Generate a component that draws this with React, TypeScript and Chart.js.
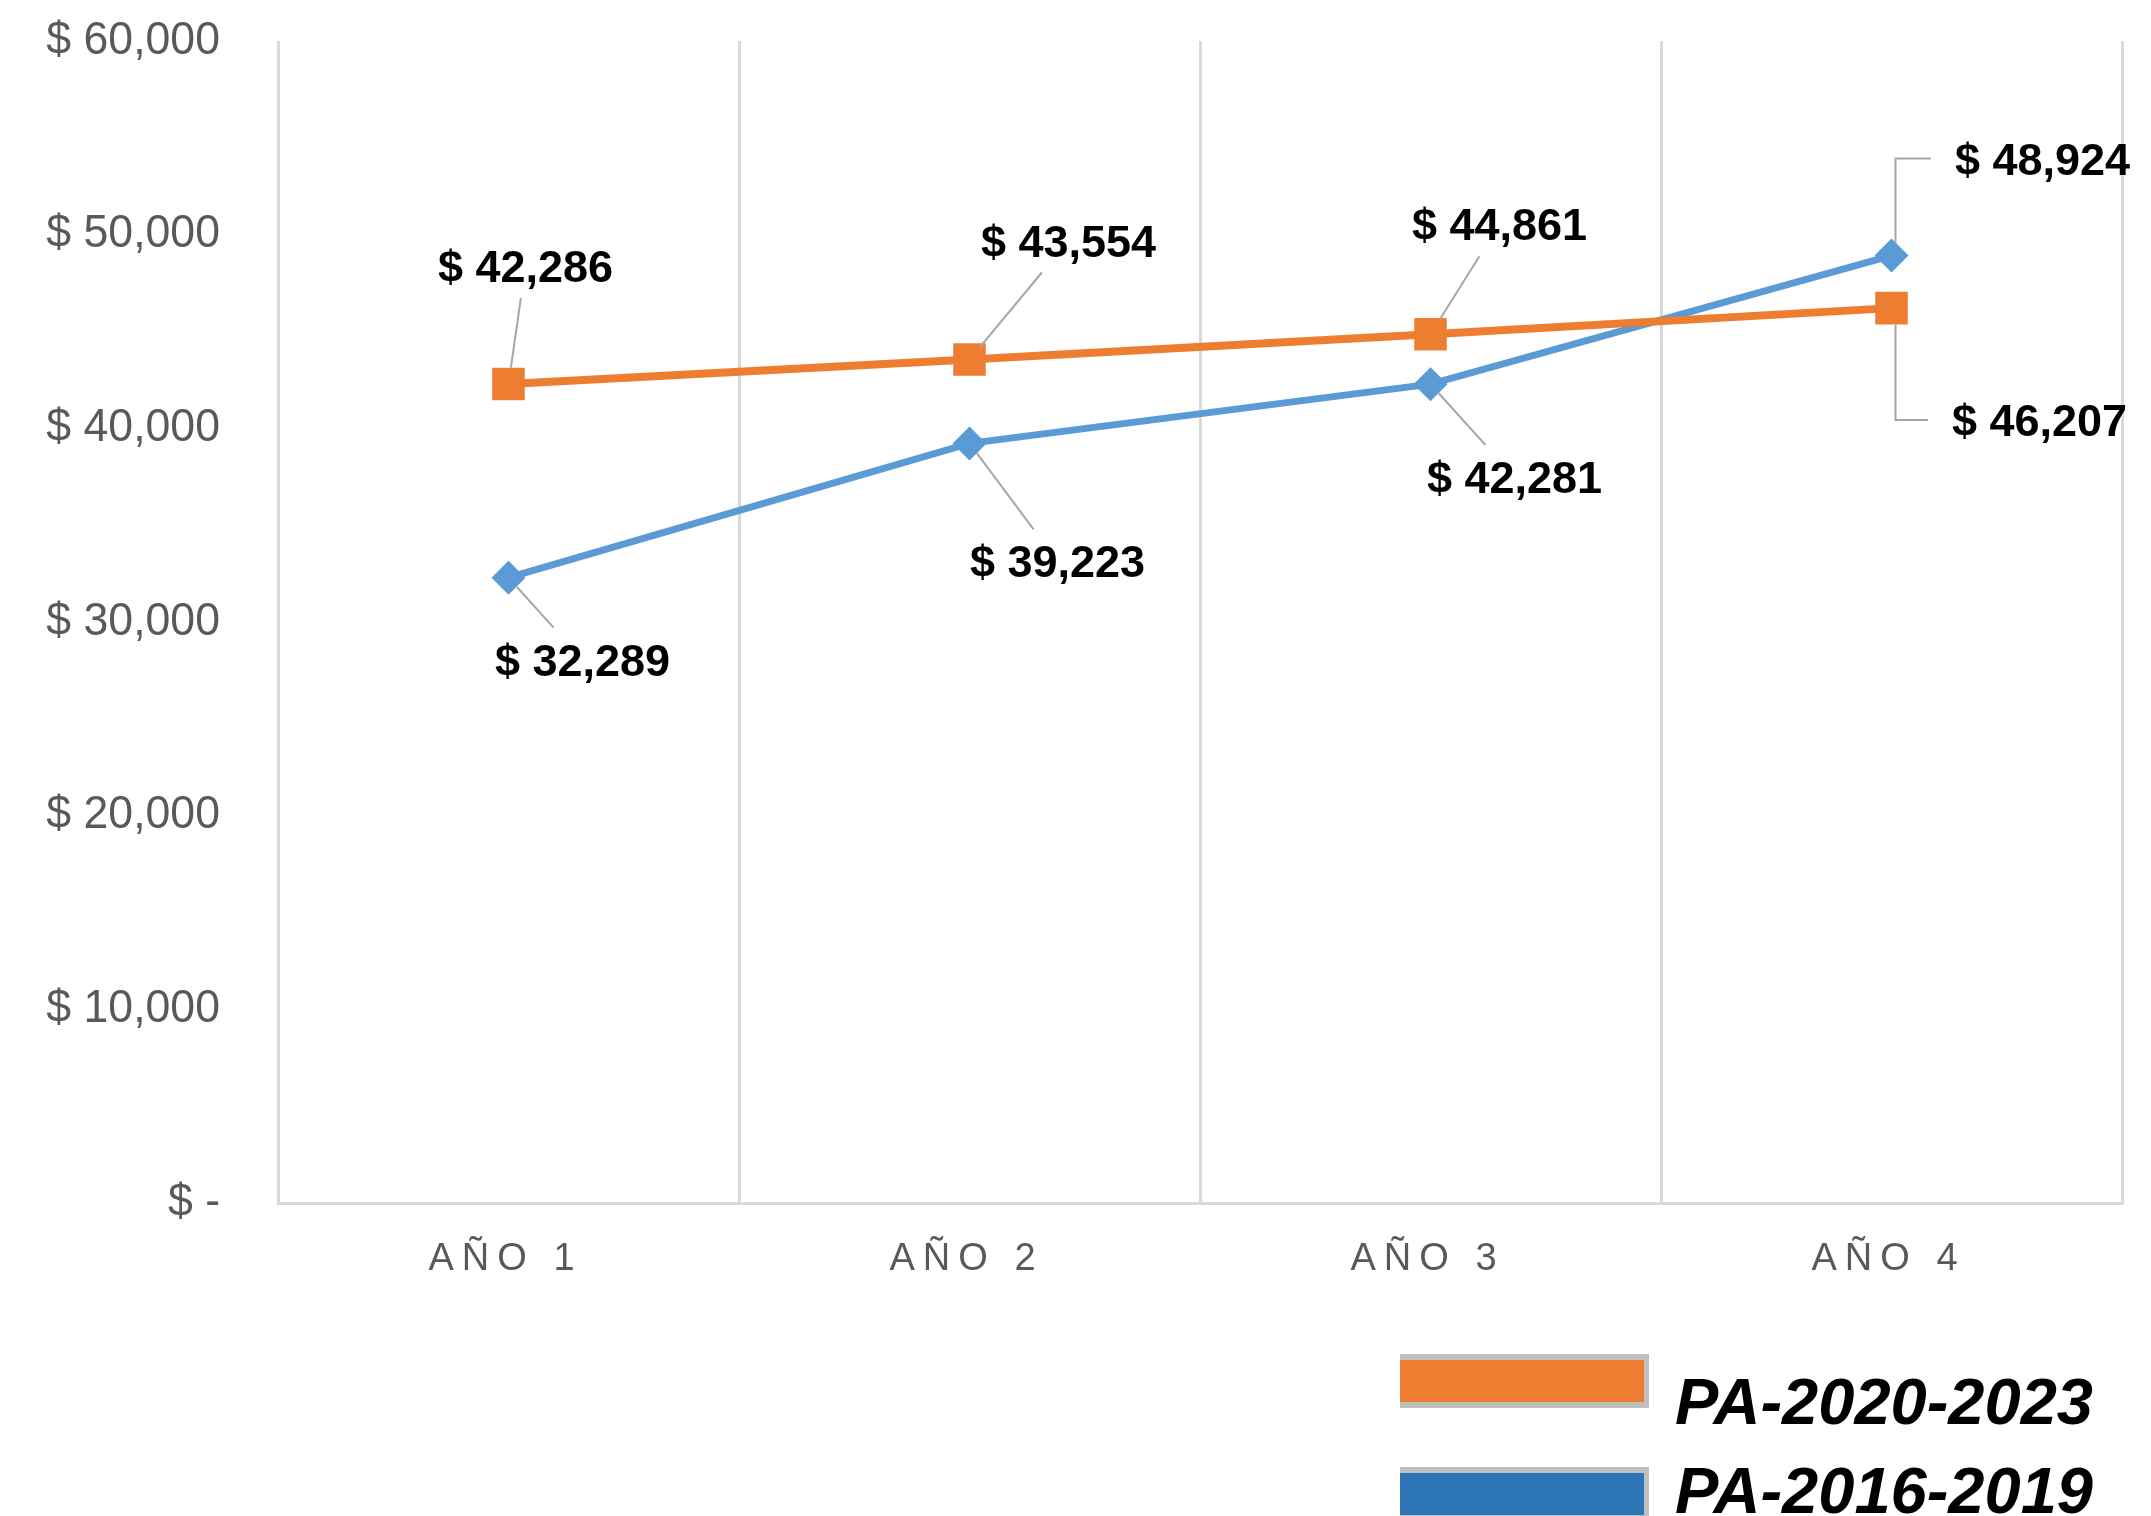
import React, { useEffect, useRef } from "react";
import { Chart, registerables } from "chart.js";

Chart.register(...registerables);

// ---- data ----
const categories = ["AÑO 1", "AÑO 2", "AÑO 3", "AÑO 4"];
const seriesNames = ["PA-2020-2023", "PA-2016-2019"];
const pa2020 = [42286, 43554, 44861, 46207];
const pa2016 = [32289, 39223, 42281, 48924];
const yMin = 0;
const yMax = 60000;
const yStep = 10000;

// ---- styling / placement (not data) ----
const lineColors = ["#ED7D31", "#5B9BD5"];
const legendColors = ["#ED7D31", "#2E75B6"];
const pointStyles = ["rect", "rectRot"];
const pointRadii = [23, 17];
const lineWidths = [8, 7];
// offset of each value label centre from its point, and connector kind
const labelPlacement: [number, number, string][][] = [
  [[17, -118, "line"], [99, -119, "line"], [69, -110, "line"], [148, 112, "elbow"]],
  [[74, 82, "line"], [88, 118, "line"], [84, 93, "line"], [151, -97, "elbow"]],
];

const SANS = "'Liberation Sans', Arial, sans-serif";
const Y_LABEL_RIGHT = 220;
const Y_LABEL_SX = 0.97;

const fmtMoney = (v: number) => (v === 0 ? "$ -" : "$ " + v.toLocaleString("en-US"));

const labelTweaks = {
  id: "labelTweaks",
  beforeDraw(chart: any) {
    const sx: any = chart.scales.x;
    if (sx && !sx.__wrapped) {
      const orig = sx.drawLabels.bind(sx);
      sx.drawLabels = (area: any) => {
        const ctx = chart.ctx;
        ctx.save();
        (ctx as any).letterSpacing = "8px";
        ctx.translate(-3, 0);
        orig(area);
        ctx.restore();
      };
      sx.__wrapped = true;
    }
    const sy: any = chart.scales.y;
    if (sy && !sy.__wrapped) {
      const origY = sy.drawLabels.bind(sy);
      sy.drawLabels = (area: any) => {
        const ctx = chart.ctx;
        ctx.save();
        ctx.translate(Y_LABEL_RIGHT, 0);
        ctx.scale(Y_LABEL_SX, 1);
        ctx.translate(-Y_LABEL_RIGHT, 0);
        origY(area);
        ctx.restore();
      };
      sy.__wrapped = true;
    }
  },
};

const valueLabels = {
  id: "valueLabels",
  afterDatasetsDraw(chart: any) {
    const ctx: CanvasRenderingContext2D = chart.ctx;
    ctx.save();
    ctx.font = `bold 45px ${SANS}`;
    chart.data.datasets.forEach((ds: any, di: number) => {
      const meta = chart.getDatasetMeta(di);
      const r = pointRadii[di] * 0.72;
      meta.data.forEach((pt: any, i: number) => {
        const x = pt.x;
        const y = pt.y;
        const [dx, dy, kind] = labelPlacement[di][i];
        const text = fmtMoney(ds.data[i]);
        const w = ctx.measureText(text).width;
        const cx = x + dx;
        const cy = y + dy;
        ctx.strokeStyle = "#A6A6A6";
        ctx.lineWidth = 2;
        ctx.beginPath();
        if (kind === "elbow") {
          ctx.moveTo(x + 4, y + Math.sign(dy) * r);
          ctx.lineTo(x + 4, cy);
          ctx.lineTo(cx - w / 2 - 24, cy);
        } else {
          const len = Math.hypot(dx, dy);
          const ux = dx / len;
          const uy = dy / len;
          const s = Math.min((w / 2 + 8) / Math.abs(dx), 32 / Math.abs(dy));
          ctx.moveTo(x + ux * r, y + uy * r);
          ctx.lineTo(cx - dx * s, cy - dy * s);
        }
        ctx.stroke();
        ctx.fillStyle = "#000000";
        ctx.textAlign = "center";
        ctx.textBaseline = "alphabetic";
        ctx.fillText(text, cx, cy + 16);
      });
    });
    ctx.restore();
  },
};

const boxLegend = {
  id: "boxLegend",
  afterDraw(chart: any) {
    const ctx: CanvasRenderingContext2D = chart.ctx;
    ctx.save();
    const rectTops = [1354, 1467];
    const textBaselines = [1424, 1513];
    chart.data.datasets.forEach((ds: any, di: number) => {
      const top = rectTops[di];
      ctx.fillStyle = "#BFBFBF";
      ctx.fillRect(1400, top, 249, 54);
      ctx.fillStyle = legendColors[di];
      ctx.fillRect(1400, top + 6, 244, 42);
      ctx.fillStyle = "#000000";
      ctx.font = `italic bold 65px ${SANS}`;
      ctx.textAlign = "left";
      ctx.textBaseline = "alphabetic";
      ctx.fillText(ds.label, 1675, textBaselines[di]);
    });
    ctx.restore();
  },
};

export default function App() {
  const ref = useRef<HTMLCanvasElement | null>(null);
  useEffect(() => {
    if (!ref.current) return;
    const chart = new Chart(ref.current, {
      type: "line",
      data: {
        labels: categories,
        datasets: [
          {
            label: seriesNames[0],
            data: pa2020,
            borderColor: lineColors[0],
            backgroundColor: lineColors[0],
            borderWidth: lineWidths[0],
            pointStyle: pointStyles[0] as any,
            pointRadius: pointRadii[0],
            pointBorderWidth: 0,
            tension: 0,
          },
          {
            label: seriesNames[1],
            data: pa2016,
            borderColor: lineColors[1],
            backgroundColor: lineColors[1],
            borderWidth: lineWidths[1],
            pointStyle: pointStyles[1] as any,
            pointRadius: pointRadii[1],
            pointBorderWidth: 0,
            tension: 0,
          },
        ],
      },
      options: {
        responsive: false,
        animation: false,
        layout: { padding: { top: 41, right: 29, left: 0, bottom: 0 } },
        plugins: { legend: { display: false }, tooltip: { enabled: false } },
        scales: {
          x: {
            offset: true,
            grid: { offset: true, color: "#D9D9D9", lineWidth: 3, drawTicks: false },
            border: { color: "#D9D9D9", width: 3 },
            ticks: { color: "#595959", font: { family: SANS, size: 38 }, padding: 34 },
            afterFit: (s: any) => {
              s.height = 313;
              s.paddingLeft = 0;
              s.paddingRight = 0;
            },
          },
          y: {
            min: yMin,
            max: yMax,
            grid: { display: false, drawTicks: false },
            border: { display: false },
            ticks: {
              stepSize: yStep,
              color: "#595959",
              padding: 58,
              font: { family: SANS, size: 46 },
              callback: (v: any) => fmtMoney(Number(v)),
            },
            afterFit: (s: any) => {
              s.width = 278;
              s.paddingTop = 0;
              s.paddingBottom = 0;
            },
          },
        },
      },
      plugins: [labelTweaks, valueLabels, boxLegend],
    });
    return () => chart.destroy();
  }, []);
  return (
    <canvas
      ref={ref}
      width={2151}
      height={1516}
      style={{ position: "fixed", left: 0, top: 0, width: 2151, height: 1516, display: "block" }}
    />
  );
}
